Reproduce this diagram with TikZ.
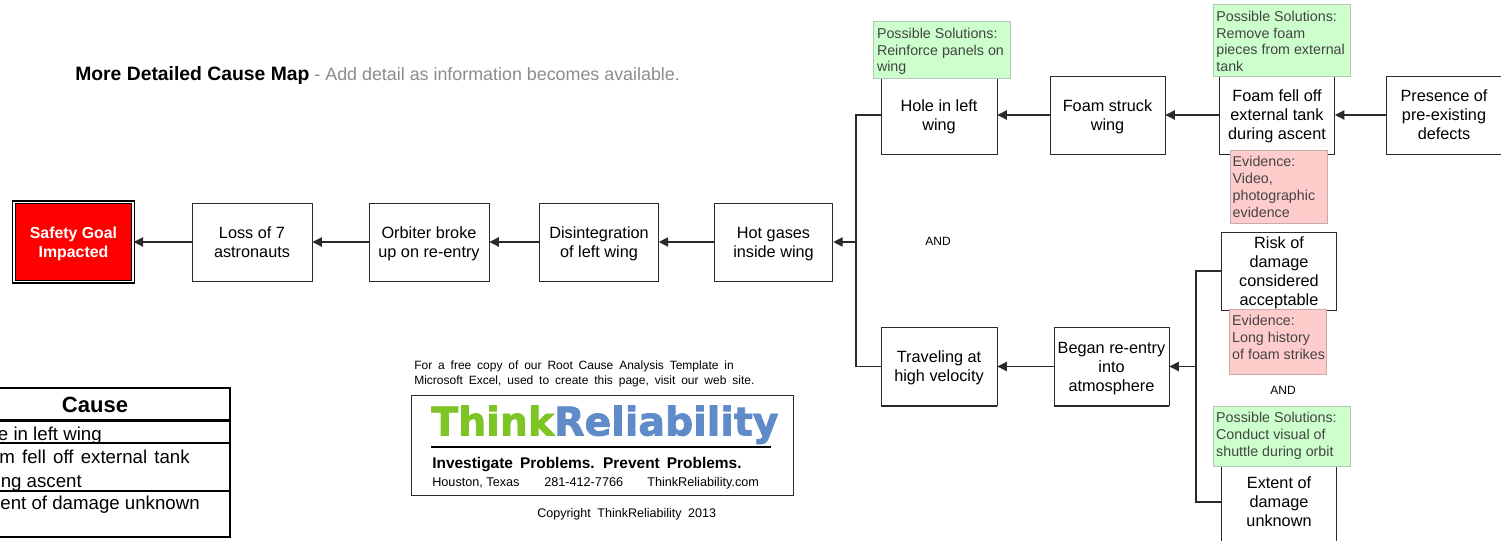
\documentclass[tikz,border=0pt]{standalone}
\usepackage{fontspec}
\setmainfont{Liberation Sans}
\newfontfamily\logofont[FakeBold=2]{DejaVu Sans Bold}
\usetikzlibrary{arrows.meta}
\definecolor{edge}{HTML}{2A2A2A}
\definecolor{tagtext}{HTML}{444444}
\definecolor{greenfill}{HTML}{CCFFCC}
\definecolor{greenedge}{HTML}{B4C8B4}
\definecolor{pinkfill}{HTML}{FFCCCC}
\definecolor{pinkedge}{HTML}{C8AAAA}
\definecolor{logogreen}{HTML}{7DC524}
\definecolor{logoblue}{HTML}{5F8BC9}
\definecolor{titlegray}{HTML}{8C8C8C}
\newcommand{\tagbody}[3]{\parbox[c][#1][t]{#2}{\raggedright\vspace*{4.5pt}#3}}
\tikzset{
  causebox/.style={draw=edge,line width=.7pt,fill=white,inner sep=0pt,minimum width=86.25pt,minimum height=58.5pt,align=center,text depth=-3.5pt,font=\fontsize{12.2}{14.25}\selectfont,
    append after command={\pgfextra{\draw[edge,line width=1.1pt] (\tikzlastnode.south west) -- (\tikzlastnode.south east);}}},
  goalbox/.style={draw=black,line width=1.1pt,double=white,double distance=.8pt,fill=red,text=white,inner sep=0pt,minimum width=89.25pt,minimum height=59.5pt,align=center,text depth=-2.5pt,font=\fontsize{11.9}{14.25}\selectfont\bfseries},
  tagbox/.style={anchor=north west,line width=.75pt,inner sep=0pt,text=tagtext,font=\fontsize{10.7}{12.6}\selectfont},
  greentag/.style={tagbox,draw=greenedge,fill=greenfill},
  pinktag/.style={tagbox,draw=pinkedge,fill=pinkfill},
  freetext/.style={inner sep=0pt,anchor=base west},
  link/.style={draw=edge,line width=.8pt},
  arrowlink/.style={link,-{Triangle[length=7pt,width=7pt]}},
  tableline/.style={draw=black,line width=1.6pt},
}
\begin{document}
\begin{tikzpicture}[x=.75pt,y=-.75pt]
\useasboundingbox (0,0) rectangle (1501,541);
\fill[white] (0,0) rectangle (1501,541);

% title
\node[freetext] (title) at (75,80.5) {\fontsize{14.5}{16}\selectfont\textbf{More Detailed Cause Map}\fontsize{13.4}{16}\selectfont\textcolor{titlegray}{\ - Add detail as information becomes available.}};

% main chain
\node[goalbox] (goal) at (73.5,242) {Safety Goal\\Impacted};
\node[causebox,minimum width=90pt] (loss) at (252,242) {Loss of 7\\astronauts};
\node[causebox,minimum width=90pt] (orbiter) at (429,242) {Orbiter broke\\up on re-entry};
\node[causebox,minimum width=89pt] (disint) at (599,242) {Disintegration\\of left wing};
\node[causebox,minimum width=89pt] (hot) at (773.5,242) {Hot gases\\inside wing};
\node[causebox,minimum width=87pt] (hole) at (939,115) {Hole in left\\wing};
\node[causebox] (struck) at (1107.5,115) {Foam struck\\wing};
\node[causebox] (fell) at (1277,115) {Foam fell off\\external tank\\during ascent};
\node[causebox] (defects) at (1444,115) {Presence of\\pre-existing\\defects};
\node[causebox,minimum width=87pt] (travel) at (939,366.5) {Traveling at\\high velocity};
\node[causebox] (began) at (1111.5,366.5) {Began re-entry\\into\\atmosphere};
\node[causebox] (risk) at (1279,271) {Risk of\\damage\\considered\\acceptable};
\node[causebox] (extent) at (1279,502) {Extent of\\damage\\unknown};

\coordinate (joinA) at (856,242);
\coordinate (joinB) at (1196,366.5);

\draw[arrowlink] (loss.west) -- (goal.east);
\draw[arrowlink] (orbiter.west) -- (loss.east);
\draw[arrowlink] (disint.west) -- (orbiter.east);
\draw[arrowlink] (hot.west) -- (disint.east);
\draw[arrowlink] (joinA) -- (hot.east);
\draw[link] (hole.west) -| (joinA) |- (travel.west);
\draw[arrowlink] (struck.west) -- (hole.east);
\draw[arrowlink] (fell.west) -- (struck.east);
\draw[arrowlink] (defects.west) -- (fell.east);
\draw[arrowlink] (began.west) -- (travel.east);
\draw[arrowlink] (joinB) -- (began.east);
\draw[link] (risk.west) -| (joinB) |- (extent.west);

% solution and evidence tags
\node[greentag] (solA) at (872.5,21.5) {\tagbody{42.5pt}{103pt}{\hspace*{3pt}Possible Solutions:\\\hspace*{3pt}Reinforce panels on\\\hspace*{3pt}wing}};
\node[greentag] (solB) at (1212.5,4.5) {\tagbody{54pt}{103pt}{\hspace*{2.5pt}Possible Solutions:\\\hspace*{2.5pt}Remove foam\\\hspace*{2.5pt}pieces from external\\\hspace*{2.5pt}tank}};
\node[pinktag] (evA) at (1229.5,150) {\tagbody{55pt}{73pt}{\hspace*{2pt}Evidence:\\\hspace*{2pt}Video,\\\hspace*{2pt}photographic\\\hspace*{2pt}evidence}};
\node[pinktag] (evB) at (1229,309) {\tagbody{48.5pt}{73pt}{\hspace*{2pt}Evidence:\\\hspace*{2pt}Long history\\\hspace*{2pt}of foam strikes}};
\node[greentag] (solC) at (1213,406) {\tagbody{45pt}{103pt}{\hspace*{2pt}Possible Solutions:\\\hspace*{2pt}Conduct visual of\\\hspace*{2pt}shuttle during orbit}};

% AND labels
\node[inner sep=0pt,font=\fontsize{9}{11}\selectfont] (andA) at (938,241) {AND};
\node[inner sep=0pt,font=\fontsize{9}{11}\selectfont] (andB) at (1283,390) {AND};

% template note and logo
\node[freetext,font=\fontsize{9}{11.25}\selectfont,align=left,anchor=north west] (note) at (414,361) {\spaceskip=4.4pt For a free copy of our Root Cause Analysis Template in\\\spaceskip=4.4pt Microsoft Excel, used to create this page, visit our web site.};
\node[draw=edge,line width=.75pt,fill=white,minimum width=287pt,minimum height=75.5pt,inner sep=0pt] (logobox) at (602.5,445.5) {};
\node[freetext] (logo) at (431,435.5) {\logofont\fontsize{29.6}{36}\selectfont\textcolor{logogreen}{Think}\textcolor{logoblue}{Reliability}};
\coordinate (ruleL) at (431,447);
\coordinate (ruleR) at (771,447);
\draw[draw=black,line width=1.7pt] (ruleL) -- (ruleR);
\node[freetext,font=\fontsize{11.6}{13}\selectfont\bfseries] (slogan) at (432,468) {\spaceskip=5.2pt Investigate Problems. Prevent Problems.};
\node[freetext,font=\fontsize{9.5}{12}\selectfont] (city) at (432,486) {Houston, Texas};
\node[freetext,font=\fontsize{9.5}{12}\selectfont] (phone) at (544,486) {281-412-7766};
\node[freetext,font=\fontsize{9.5}{12}\selectfont] (web) at (647,486) {ThinkReliability.com};
\node[freetext,font=\fontsize{9.4}{11}\selectfont] (copy) at (537,517) {\spaceskip=4.9pt Copyright ThinkReliability 2013};

% cause table
\coordinate (tabTL) at (0,388);
\coordinate (tabTR) at (230,388);
\coordinate (tabBR) at (230,537);
\coordinate (tabBL) at (0,537);
\draw[tableline] (tabTL) -- (tabTR) -- (tabBR) -- (tabBL);
\draw[tableline] (0,420.5) -- (230,420.5);
\draw[tableline] (0,443) -- (230,443);
\draw[tableline] (0,491) -- (230,491);
\node[inner sep=0pt,anchor=base,font=\fontsize{16.5}{20}\selectfont\bfseries] (cause) at (95,412) {Cause};
\node[inner sep=0pt,anchor=base east,font=\fontsize{14}{17}\selectfont] (rowA) at (102,440) {e in left wing};
\node[inner sep=0pt,anchor=base east,font=\fontsize{14}{17}\selectfont] (rowB) at (190,463) {\spaceskip=5.4pt m fell off external tank};
\node[inner sep=0pt,anchor=base east,font=\fontsize{14}{17}\selectfont] (rowC) at (82,487) {ng ascent};
\node[inner sep=0pt,anchor=base east,font=\fontsize{14}{17}\selectfont] (rowD) at (200,509) {ent of damage unknown};
\end{tikzpicture}
\end{document}
